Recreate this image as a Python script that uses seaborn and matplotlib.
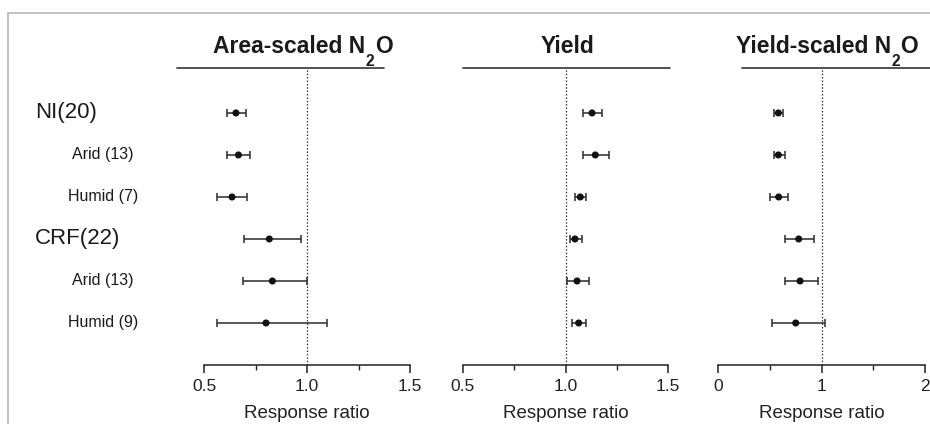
import matplotlib
matplotlib.use("Agg")
import matplotlib.pyplot as plt
from matplotlib.lines import Line2D
import seaborn as sns
import pandas as pd

# Groups and sub-groups (number of observations in brackets)
rows = ["NI(20)", "Arid (13)", "Humid (7)", "CRF(22)", "Arid (13)", "Humid (9)"]
main_rows = [True, False, False, True, False, False]

# Area-scaled N2O response ratio: mean and 95% CI bounds
area_mean = [0.655, 0.667, 0.636, 0.817, 0.832, 0.801]
area_lo = [0.612, 0.610, 0.562, 0.693, 0.688, 0.565]
area_hi = [0.705, 0.725, 0.710, 0.972, 0.998, 1.097]

# Yield response ratio
yield_mean = [1.129, 1.145, 1.072, 1.046, 1.056, 1.064]
yield_lo = [1.087, 1.087, 1.048, 1.020, 1.007, 1.030]
yield_hi = [1.176, 1.213, 1.101, 1.082, 1.113, 1.098]

# Yield-scaled N2O response ratio
ys_mean = [0.581, 0.581, 0.584, 0.778, 0.791, 0.749]
ys_lo = [0.536, 0.536, 0.503, 0.649, 0.649, 0.523]
ys_hi = [0.629, 0.643, 0.674, 0.929, 0.962, 1.033]

# panel headings: (text, subscript, text after subscript)
titles = [("Area-scaled N", "2", "O"), ("Yield", "", ""), ("Yield-scaled N", "2", "O")]
xlims = [(0.5, 1.5), (0.5, 1.5), (0, 2)]
major_ticks = [[0.5, 1.0, 1.5], [0.5, 1.0, 1.5], [0, 1, 2]]
major_labels = [["0.5", "1.0", "1.5"], ["0.5", "1.0", "1.5"], ["0", "1", "2"]]
minor_ticks = [[0.75, 1.25], [0.75, 1.25], [0.5, 1.5]]

sns.set_theme(style="white")
plt.rcParams["font.family"] = ["Liberation Sans", "DejaVu Sans"]

W, H = 930, 424
fig = plt.figure(figsize=(W / 100, H / 100), dpi=100)
fig.patch.set_facecolor("white")
renderer = fig.canvas.get_renderer()

# panel geometry in pixels: left, width
panels = [(204, 206), (462.7, 205.6), (718.3, 206.7)]
top_px, bottom_px = 68, 365
title_cx = [303, 567, 827]
title_line = [(-0.131, 0.874), (0.0, 1.01), (0.115, 1.3)]

series = [
    (area_mean, area_lo, area_hi),
    (yield_mean, yield_lo, yield_hi),
    (ys_mean, ys_lo, ys_hi),
]


def heading(cx, baseline, main, sub, tail, size=16.5):
    """Bold heading with a dropped subscript, centred on cx (pixels)."""
    kw = dict(fontweight="bold", color="#1a1a1a", va="baseline", ha="left")
    pieces = [fig.text(0, 0, main, fontsize=size, **kw)]
    if sub:
        pieces.append(fig.text(0, 0, sub, fontsize=size * 0.68,
                               fontweight="bold", color="#1a1a1a", va="top", ha="left"))
        pieces.append(fig.text(0, 0, tail, fontsize=size, **kw))
    widths = [p.get_window_extent(renderer).width for p in pieces]
    gaps = [0, 0.5, 0.5][:len(pieces)]
    total = sum(widths) + sum(gaps)
    x = cx - total / 2
    for j, (p, w) in enumerate(zip(pieces, widths)):
        x += gaps[j]
        y = baseline if j != 1 else baseline + 1
        p.set_position((x / W, (H - y) / H))
        x += w


axes = []
for i, ((left, width), (m, lo, hi)) in enumerate(zip(panels, series)):
    ax = fig.add_axes([left / W, (H - bottom_px) / H, width / W, (bottom_px - top_px) / H])
    axes.append(ax)
    df = pd.DataFrame({"row": range(len(rows)), "mean": m, "lo": lo, "hi": hi})
    ax.errorbar(df["mean"], df["row"],
                xerr=[df["mean"] - df["lo"], df["hi"] - df["mean"]],
                fmt="none", ecolor="#2b2b2b", elinewidth=1.1, capsize=3.2,
                capthick=1.1, zorder=2)
    sns.scatterplot(data=df, x="mean", y="row", ax=ax, color="#111111",
                    s=26, edgecolor="none", zorder=3, legend=False)
    ax.axvline(1.0, color="#333333", lw=0.9, ls=(0, (1.2, 1.5)), zorder=1)
    ax.set_xlim(*xlims[i])
    ax.set_ylim(6.0, -1.07)
    ax.set_yticks([])
    ax.set_ylabel("")
    ax.set_xticks(major_ticks[i])
    ax.set_xticklabels(major_labels[i], fontsize=12.5, color="#222222")
    ax.set_xticks(minor_ticks[i], minor=True)
    ax.tick_params(axis="x", which="major", direction="out", length=6, width=1.1,
                   color="#222222", pad=4, bottom=True)
    ax.tick_params(axis="x", which="minor", direction="out", length=3.5, width=1.0,
                   color="#222222", bottom=True)
    for s in ["top", "left", "right"]:
        ax.spines[s].set_visible(False)
    ax.spines["bottom"].set_color("#222222")
    ax.spines["bottom"].set_linewidth(1.1)
    ax.set_xlabel("Response ratio", fontsize=13.5, color="#222222", labelpad=8)
    ax.patch.set_alpha(0)
    # rule under the panel heading
    ax.add_line(Line2D(list(title_line[i]), [1, 1], transform=ax.transAxes,
                       color="#333333", lw=1.2, clip_on=False))
    heading(title_cx[i], 53, *titles[i])

# row labels at the left of the first panel
ax0 = axes[0]
trans = matplotlib.transforms.blended_transform_factory(fig.transFigure, ax0.transData)
for k, (lab, is_main) in enumerate(zip(rows, main_rows)):
    if is_main:
        ax0.text(35 / W, k, lab, transform=trans, ha="left", va="center",
                 fontsize=16, color="#1a1a1a")
    else:
        ax0.text(103 / W, k, lab, transform=trans, ha="center", va="center",
                 fontsize=11.5, color="#1a1a1a")

# light frame around the figure
fig.add_artist(Line2D([8 / W, 8 / W], [0, (H - 13) / H], transform=fig.transFigure,
                      color="#bdbdbd", lw=1.3))
fig.add_artist(Line2D([8 / W, 1], [(H - 13) / H, (H - 13) / H], transform=fig.transFigure,
                      color="#bdbdbd", lw=1.3))

fig.savefig("out.png", dpi=100, facecolor="white")
